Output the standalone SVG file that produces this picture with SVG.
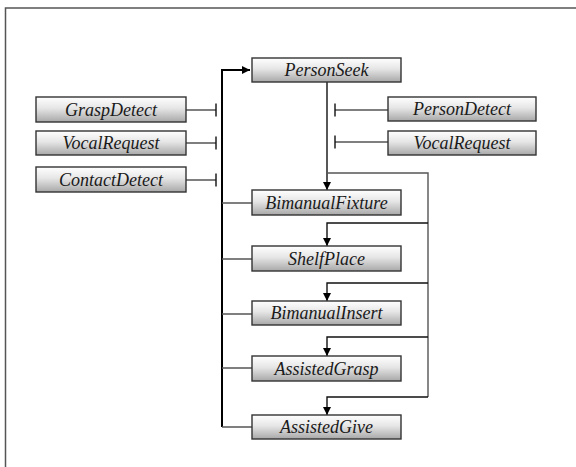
<svg xmlns="http://www.w3.org/2000/svg" width="576" height="467" viewBox="0 0 576 467">
<defs>
<linearGradient id="g" x1="0" y1="0" x2="0" y2="1">
<stop offset="0" stop-color="#ffffff"/>
<stop offset="0.45" stop-color="#e6e6e6"/>
<stop offset="1" stop-color="#a8a8a8"/>
</linearGradient>
<marker id="ah" viewBox="0 0 10 10" refX="10" refY="5" markerWidth="8" markerHeight="8" markerUnits="userSpaceOnUse" orient="auto">
<path d="M0,0 L10,5 L0,10 z" fill="#000"/>
</marker>
</defs>
<style>
.box{fill:url(#g);stroke:#333;stroke-width:1.4}
.t{font-family:'Liberation Serif','Times New Roman',serif;font-style:italic;font-size:18px;fill:#1a1a1a;text-anchor:middle}
.k{fill:none;stroke:#111;stroke-width:1.4}
.gr{fill:none;stroke:#555;stroke-width:1.4}
.bus{fill:none;stroke:#000;stroke-width:2}
</style>
<rect x="0" y="0" width="576" height="467" fill="#fff"/>
<path d="M5.5,467 V8 H576" fill="none" stroke="#555" stroke-width="1.5"/>
<g id="connectors">
<path class="bus" d="M222,427 V70 H250" marker-end="url(#ah)"/>
<path class="gr" d="M222,203 H252 M222,259 H252 M222,314 H252 M222,368 H252 M222,427 H252"/>
<path class="gr" d="M186,110 H216 M186,143 H216 M186,180 H216"/>
<path class="k" d="M216,103.5 V116.5 M216,136.5 V149.5 M216,173.5 V186.5" stroke-width="2"/>
<path class="gr" d="M388,110 H335 M388,142 H335"/>
<path class="k" d="M335,103.5 V116.5 M335,135.5 V148.5" stroke-width="2"/>
<path class="k" d="M327,82 V190" marker-end="url(#ah)"/>
<path class="gr" d="M327,173 H428 V397"/>
<path class="k" d="M428,223 H327 V246" marker-end="url(#ah)"/>
<path class="k" d="M428,283 H327 V301" marker-end="url(#ah)"/>
<path class="k" d="M428,337 H327 V356" marker-end="url(#ah)"/>
<path class="k" d="M428,397 H327 V415" marker-end="url(#ah)"/>
</g>
<g id="PersonSeek"><rect class="box" x="252" y="58" width="149" height="24"/><text class="t" x="326.5" y="76">PersonSeek</text></g>
<g id="PersonDetect"><rect class="box" x="388" y="97" width="148" height="24"/><text class="t" x="462" y="115">PersonDetect</text></g>
<g id="VocalRequestR"><rect class="box" x="388" y="131" width="148" height="24"/><text class="t" x="462" y="149">VocalRequest</text></g>
<g id="GraspDetect"><rect class="box" x="36" y="97" width="150" height="25"/><text class="t" x="111" y="115.5">GraspDetect</text></g>
<g id="VocalRequestL"><rect class="box" x="36" y="131" width="150" height="24"/><text class="t" x="111" y="149">VocalRequest</text></g>
<g id="ContactDetect"><rect class="box" x="36" y="167" width="150" height="25"/><text class="t" x="111" y="185.5">ContactDetect</text></g>
<g id="BimanualFixture"><rect class="box" x="252" y="190" width="149" height="25"/><text class="t" x="326.5" y="208.5">BimanualFixture</text></g>
<g id="ShelfPlace"><rect class="box" x="252" y="246" width="149" height="25"/><text class="t" x="326.5" y="264.5">ShelfPlace</text></g>
<g id="BimanualInsert"><rect class="box" x="252" y="301" width="149" height="24"/><text class="t" x="326.5" y="319">BimanualInsert</text></g>
<g id="AssistedGrasp"><rect class="box" x="252" y="356" width="149" height="25"/><text class="t" x="326.5" y="374.5">AssistedGrasp</text></g>
<g id="AssistedGive"><rect class="box" x="252" y="415" width="149" height="24"/><text class="t" x="326.5" y="433">AssistedGive</text></g>
</svg>
